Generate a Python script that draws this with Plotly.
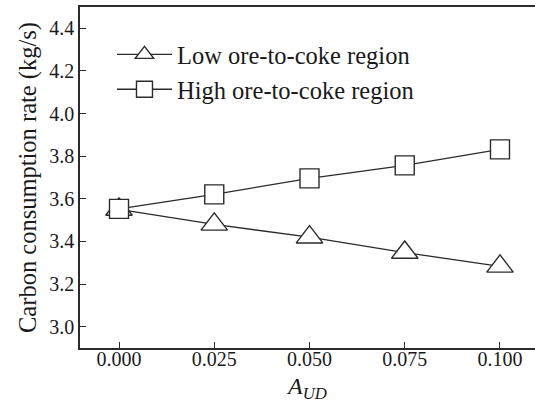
import plotly.graph_objects as go

a_ud = [0.000, 0.025, 0.050, 0.075, 0.100]
low_region = [3.55, 3.48, 3.42, 3.348, 3.283]
high_region = [3.553, 3.621, 3.696, 3.757, 3.832]
x_ticks = [0.000, 0.025, 0.050, 0.075, 0.100]
x_tick_labels = ["0.000", "0.025", "0.050", "0.075", "0.100"]
y_ticks = [3.0, 3.2, 3.4, 3.6, 3.8, 4.0, 4.2, 4.4]

ink = "#2b2b2b"
font_family = "Liberation Serif"
x_range = [-0.01024, 0.10919]

fig = go.Figure()
fig.add_trace(go.Scatter(
    x=a_ud, y=low_region, mode="lines+markers", name="Low ore-to-coke region",
    line=dict(color=ink, width=1.3),
    marker=dict(symbol="triangle-up", size=23, color="white", line=dict(color=ink, width=1.4)),
))
fig.add_trace(go.Scatter(
    x=a_ud, y=high_region, mode="lines+markers", name="High ore-to-coke region",
    line=dict(color=ink, width=1.3),
    marker=dict(symbol="square", size=19, color="white", line=dict(color=ink, width=1.4)),
))

# plot area: top 7px, bottom 348px; paper area 7..364
paper_h = 404 - 7 - 40
y_dom_bottom = (364 - 348) / paper_h
label_axis_pos = (364 - 345) / paper_h

fig.update_layout(
    width=535, height=404,
    margin=dict(l=80, r=0, t=7, b=40),
    paper_bgcolor="white", plot_bgcolor="white",
    font=dict(family=font_family, color="#1a1a1a", size=20),
    showlegend=True,
    legend=dict(
        x=0.0703, y=0.93, xanchor="left", yanchor="top",
        font=dict(size=24.5, family=font_family, color="#1a1a1a"),
        bgcolor="rgba(0,0,0,0)", itemwidth=55, tracegroupgap=0,
    ),
    xaxis=dict(
        range=x_range, tickvals=x_ticks, ticktext=x_tick_labels,
        showline=True, linecolor=ink, linewidth=1.5, mirror=True,
        ticks="inside", ticklen=6, tickwidth=1.3, tickcolor=ink,
        showgrid=False, zeroline=False, showticklabels=False,
    ),
    xaxis2=dict(
        range=x_range, tickvals=x_ticks, ticktext=x_tick_labels,
        overlaying="x", anchor="free", position=label_axis_pos, side="bottom",
        showline=False, ticks="", showgrid=False, zeroline=False,
        tickfont=dict(size=20, family=font_family),
        title=dict(text="<i>A</i><sub><i>UD</i></sub>", font=dict(size=24, family=font_family), standoff=8),
    ),
    yaxis=dict(
        range=[2.9, 4.5], tickvals=y_ticks, tickformat=".1f", domain=[y_dom_bottom, 1],
        showline=True, linecolor=ink, linewidth=1.5, mirror=False,
        ticks="inside", ticklen=6, tickwidth=1.3, tickcolor=ink,
        showgrid=False, zeroline=False,
        tickfont=dict(size=20, family=font_family),
        title=dict(text="Carbon consumption rate (kg/s)", font=dict(size=24.5, family=font_family), standoff=6),
    ),
)
# keep the label axis alive with an invisible, non-legend trace copy of the x data
fig.add_trace(go.Scatter(x=a_ud, y=high_region, xaxis="x2", mode="none", showlegend=False, hoverinfo="skip"))

fig.write_html("out.html")
